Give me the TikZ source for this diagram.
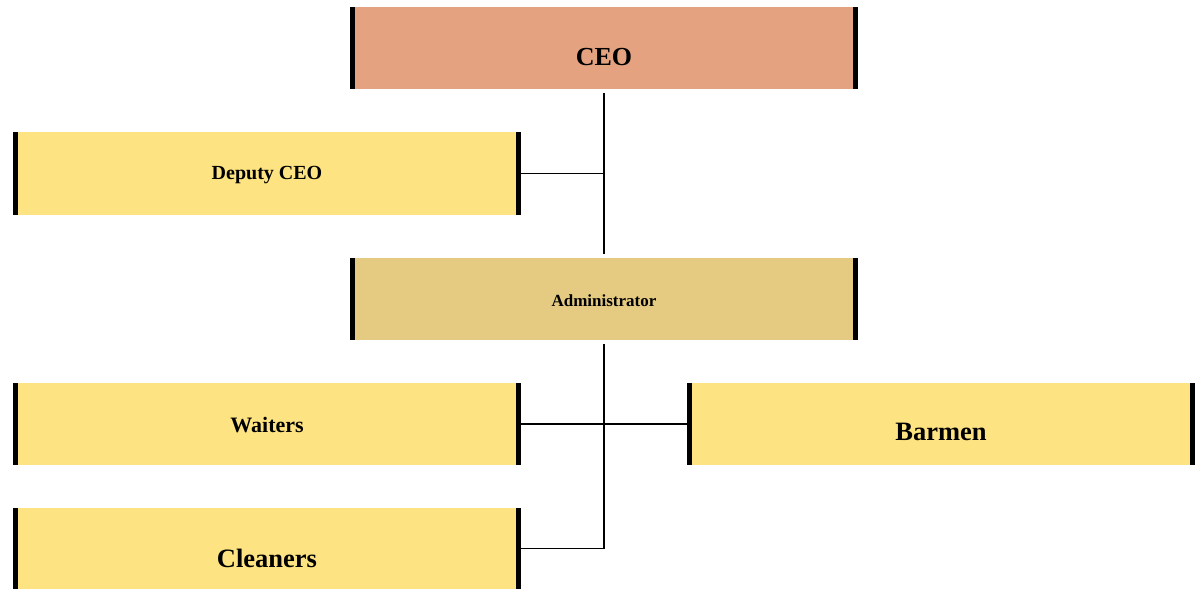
\documentclass[tikz,border=0pt]{standalone}
\usepackage{fontspec}
\setmainfont{Liberation Serif}
\usetikzlibrary{calc, positioning}

\definecolor{ceofill}{RGB}{228,162,129}
\definecolor{adminfill}{RGB}{229,203,129}
\definecolor{stafffill}{RGB}{253,227,129}

\tikzset{
  orgbox/.style={rectangle, inner sep=0pt, outer sep=0pt, minimum width=508pt, minimum height=82pt, fill=stafffill},
  bar/.style={line width=5pt},
  link/.style={line width=1.5pt}
}

\begin{document}
\begin{tikzpicture}[x=1pt, y=-1pt]
\useasboundingbox (0,0) rectangle (1202,589);
% Draw boxes
\node[orgbox, fill=ceofill, label={[name=ceo-t, yshift=-9pt, font=\bfseries\fontsize{26}{30}\selectfont]center:CEO}] (ceo) at (604,48) {};
\node[orgbox, minimum height=83pt, label={[name=deputy-t, yshift=-2pt, font=\bfseries\fontsize{20}{24}\selectfont]center:Deputy CEO}] (deputy) at (267,173.5) {};
\node[orgbox, fill=adminfill, label={[name=admin-t, yshift=-2pt, font=\bfseries\fontsize{17}{20}\selectfont]center:Administrator}] (admin) at (604,299) {};
\node[orgbox, label={[name=waiters-t, yshift=-1pt, font=\bfseries\fontsize{22}{26}\selectfont]center:Waiters}] (waiters) at (267,424) {};
\node[orgbox, label={[name=barmen-t, yshift=-8pt, font=\bfseries\fontsize{26.5}{30}\selectfont]center:Barmen}] (barmen) at (941,424) {};
\node[orgbox, minimum height=81pt, label={[name=cleaners-t, yshift=-9.5pt, font=\bfseries\fontsize{26.5}{30}\selectfont]center:Cleaners}] (cleaners) at (267,548.5) {};
% Side bars
\foreach \n in {ceo, deputy, admin, waiters, barmen, cleaners} {
  \draw[bar] ([xshift=2.5pt]\n.north west) -- ([xshift=2.5pt]\n.south west);
  \draw[bar] ([xshift=-2.5pt]\n.north east) -- ([xshift=-2.5pt]\n.south east);
}
% Connectors
\draw[link, shorten <=4pt, shorten >=4pt] (ceo.south) -- (admin.north);
\draw[link] (deputy.east) -- (deputy.east -| ceo.south);
\draw[link, shorten <=4pt] (admin.south) -- (admin.south |- cleaners.east) -- (cleaners.east);
\draw[link] (waiters.east) -- (barmen.west);
\end{tikzpicture}
\end{document}
